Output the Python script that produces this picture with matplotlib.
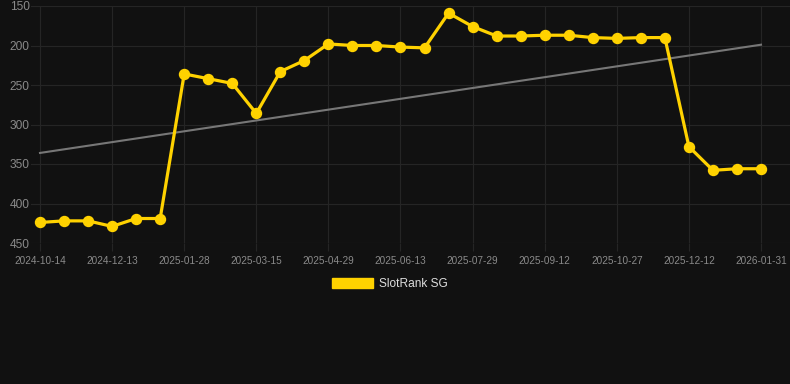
import numpy as np
import matplotlib
matplotlib.use("Agg")
import matplotlib.pyplot as plt
from matplotlib.patches import Patch

# rank values, one per point (lower is better, axis inverted)
ranks = [424, 422, 422, 429, 419, 419, 236, 242, 248, 286, 233, 219,
         198, 200, 200, 202, 203, 159, 176, 188, 188, 187, 187, 190,
         191, 190, 190, 328, 358, 356, 356]
tick_labels = ["2024-10-14", "2024-12-13", "2025-01-28", "2025-03-15",
               "2025-04-29", "2025-06-13", "2025-07-29", "2025-09-12",
               "2025-10-27", "2025-12-12", "2026-01-31"]
trend_ends = [336, 199]
yticks = [150, 200, 250, 300, 350, 400, 450]

plt.rcParams['font.family'] = ['Liberation Sans', 'DejaVu Sans']

bg = "#111111"
gold = "#ffd200"

fig = plt.figure(figsize=(7.9, 3.84), dpi=100, facecolor=bg)
ax = fig.add_axes([31/790, 1-243/384, (790-31)/790, (243-6)/384])
ax.set_facecolor(bg)

x = np.arange(len(ranks))
ax.plot([x[0], x[-1]], trend_ends, color="#777777", lw=1.5, zorder=2)
ax.plot(x, ranks, color=gold, lw=2.3, marker="o", ms=7.2, zorder=3)

ax.set_xlim(-9/24.03, 30 + 29/24.03)
ax.set_ylim(450, 150)
ax.set_yticks(yticks)
ax.set_xticks(x[::3])
ax.set_xticklabels(tick_labels)

ax.grid(True, color="#252525", lw=0.8)
for s in ax.spines.values():
    s.set_visible(False)
ax.tick_params(axis="y", colors="#8a8a8a", labelsize=8.6, length=0, pad=1)
ax.tick_params(axis="x", colors="#252525", labelcolor="#8a8a8a", labelsize=7.2,
               length=6, width=0.8, pad=3)

leg = fig.legend(handles=[Patch(facecolor=gold, edgecolor=gold, label="SlotRank SG")],
                 loc="center", bbox_to_anchor=(390/790, 1-284/384), frameon=False,
                 handlelength=3.4, handleheight=1.0, handletextpad=0.5, fontsize=8.6)
for t in leg.get_texts():
    t.set_color("#dddddd")

fig.savefig("out.png", dpi=100, facecolor=bg)
